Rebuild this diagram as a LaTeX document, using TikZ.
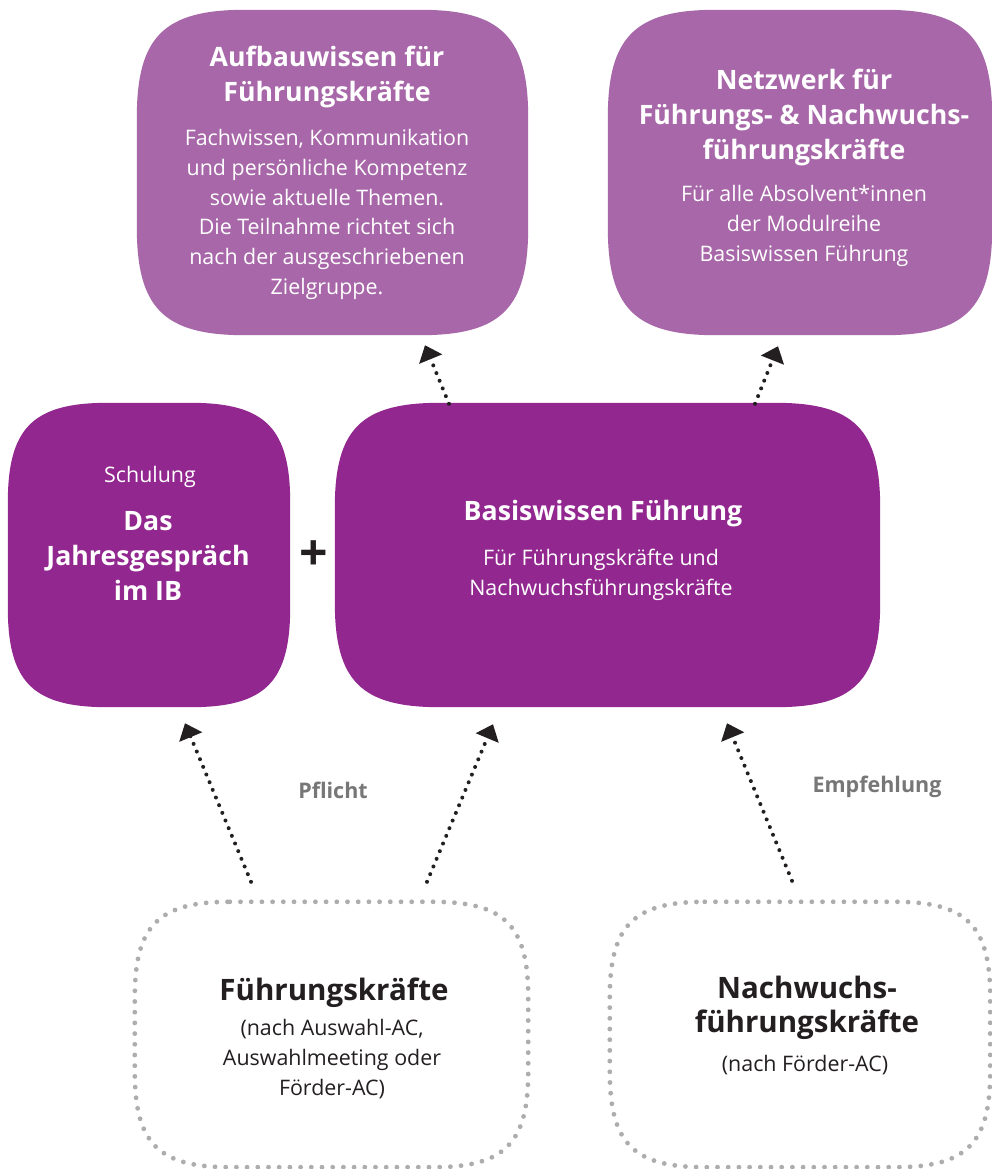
\documentclass[tikz,border=0pt]{standalone}
\usepackage{fontspec}
\setmainfont{Open Sans}
\usetikzlibrary{calc,arrows.meta,backgrounds}
\definecolor{lightpurple}{HTML}{A767A8}
\definecolor{darkpurple}{HTML}{92278F}
\definecolor{dotgray}{HTML}{ADADAD}
\definecolor{inkdark}{HTML}{231F20}
\definecolor{labelgray}{HTML}{777777}

\newcommand{\softshape}[3]{%
 \path[#1] ($(#2.north west)+(#3,0)$) -- ($(#2.north east)+(-#3,0)$)
   .. controls ($(#2.north east)+(-0.25*#3,0)$) and ($(#2.north east)+(0,0.25*#3)$) .. ($(#2.north east)+(0,#3)$)
   -- ($(#2.south east)+(0,-#3)$)
   .. controls ($(#2.south east)+(0,-0.25*#3)$) and ($(#2.south east)+(-0.25*#3,0)$) .. ($(#2.south east)+(-#3,0)$)
   -- ($(#2.south west)+(#3,0)$)
   .. controls ($(#2.south west)+(0.25*#3,0)$) and ($(#2.south west)+(0,-0.25*#3)$) .. ($(#2.south west)+(0,-#3)$)
   -- ($(#2.north west)+(0,#3)$)
   .. controls ($(#2.north west)+(0,0.25*#3)$) and ($(#2.north west)+(0.25*#3,0)$) .. ($(#2.north west)+(#3,0)$) -- cycle;}

\tikzset{
  area/.style={draw=none, fill=none, inner sep=0pt},
  titlew/.style={text=white, font=\fontsize{26.7}{35}\selectfont\bfseries, align=center, inner sep=0pt},
  bodyw/.style={text=white, font=\fontsize{21.4}{29.7}\selectfont, align=center, inner sep=0pt},
  titled/.style={text=inkdark, font=\fontsize{29.5}{34}\selectfont\bfseries, align=center, inner sep=0pt},
  bodyd/.style={text=inkdark, font=\fontsize{21.4}{30}\selectfont, align=center, inner sep=0pt},
  lbl/.style={text=labelgray, font=\fontsize{21.5}{24}\selectfont\bfseries, inner sep=0pt},
  plussign/.style={text=inkdark, font=\fontsize{50}{50}\selectfont\bfseries, inner sep=0pt},
  arr/.style={draw=inkdark, line width=4pt, line cap=round, dash pattern=on 0pt off 8.3pt,
    -{Triangle[length=15pt,width=24pt]}},
  dotborder/.style={draw=dotgray, line width=4.8pt, line cap=round, dash pattern=on 0pt off 10.7pt}
}

\begin{document}
\begin{tikzpicture}[x=1pt,y=-1pt]
\useasboundingbox (0,0) rectangle (992,1169);

% box areas
\node[area, minimum width=391pt, minimum height=325pt] (aufbau) at (332.5,172.5) {};
\node[area, minimum width=384pt, minimum height=325pt] (netz) at (800,172.5) {};
\node[area, minimum width=282pt, minimum height=304pt] (jahr) at (149,555) {};
\node[area, minimum width=545pt, minimum height=304pt] (basis) at (607.5,555) {};
\node[area, minimum width=393pt, minimum height=265pt] (fk) at (331.5,1034.5) {};
\node[area, minimum width=380pt, minimum height=265pt] (nw) at (800,1034.5) {};

\begin{scope}[on background layer]
  \fill[white] (0,0) rectangle (992,1169);
  \softshape{fill=lightpurple}{aufbau}{108}
  \softshape{fill=lightpurple}{netz}{108}
  \softshape{fill=darkpurple}{jahr}{100}
  \softshape{fill=darkpurple}{basis}{105}
  \softshape{dotborder}{fk}{95}
  \softshape{dotborder}{nw}{95}
\end{scope}

% texts
\node[titlew] (aufbauT) at (327,77) {Aufbauwissen für\\Führungskräfte};
\node[bodyw] (aufbauB) at (327,214.5) {Fachwissen, Kommunikation\\und persönliche Kompetenz\\sowie aktuelle Themen.\\Die Teilnahme richtet sich\\nach der ausgeschriebenen\\Zielgruppe.};
\node[titlew] (netzT) at (804,117.5) {Netzwerk für\\Führungs- \& Nachwuchs-\\führungskräfte};
\node[bodyw] (netzB) at (804,226) {Für alle Absolvent*innen\\der Modulreihe\\Basiswissen Führung};
\node[bodyw] (jahrS) at (150,477) {Schulung};
\node[titlew] (jahrT) at (148,555.5) {Das\\Jahresgespräch\\im IB};
\node[titlew] (basisT) at (603,513.5) {Basiswissen Führung};
\node[bodyw] (basisB) at (601,575) {Für Führungskräfte und\\Nachwuchsführungskräfte};
\node[plussign] (plus) at (314,556) {+};
\node[titled] (fkT) at (334,992.5) {Führungskräfte};
\node[bodyd] (fkB) at (332,1059) {(nach Auswahl-AC,\\Auswahlmeeting oder\\Förder-AC)};
\node[titled] (nwT) at (807,1008) {Nachwuchs-\\führungskräfte};
\node[bodyd] (nwB) at (805,1065) {(nach Förder-AC)};
\node[lbl] (pfl) at (333,790) {Pflicht};
\node[lbl] (emp) at (877,787) {Empfehlung};

% connectors
\draw[arr] ($(basis.north)+(-158.5,1)$) -- ($(aufbau.south)+(92.5,10)$);
\draw[arr] ($(basis.north)+(147.5,1)$) -- ($(netz.south)+(-22,11)$);
\draw[arr] ($(fk.north)+(-80.5,-20)$) -- ($(jahr.south)+(36,16)$);
\draw[arr] ($(fk.north)+(95.5,-20)$) -- ($(basis.south)+(-114.5,17)$);
\draw[arr] ($(nw.north)+(-8,-21)$) -- ($(basis.south)+(119.5,16)$);
\end{tikzpicture}
\end{document}
